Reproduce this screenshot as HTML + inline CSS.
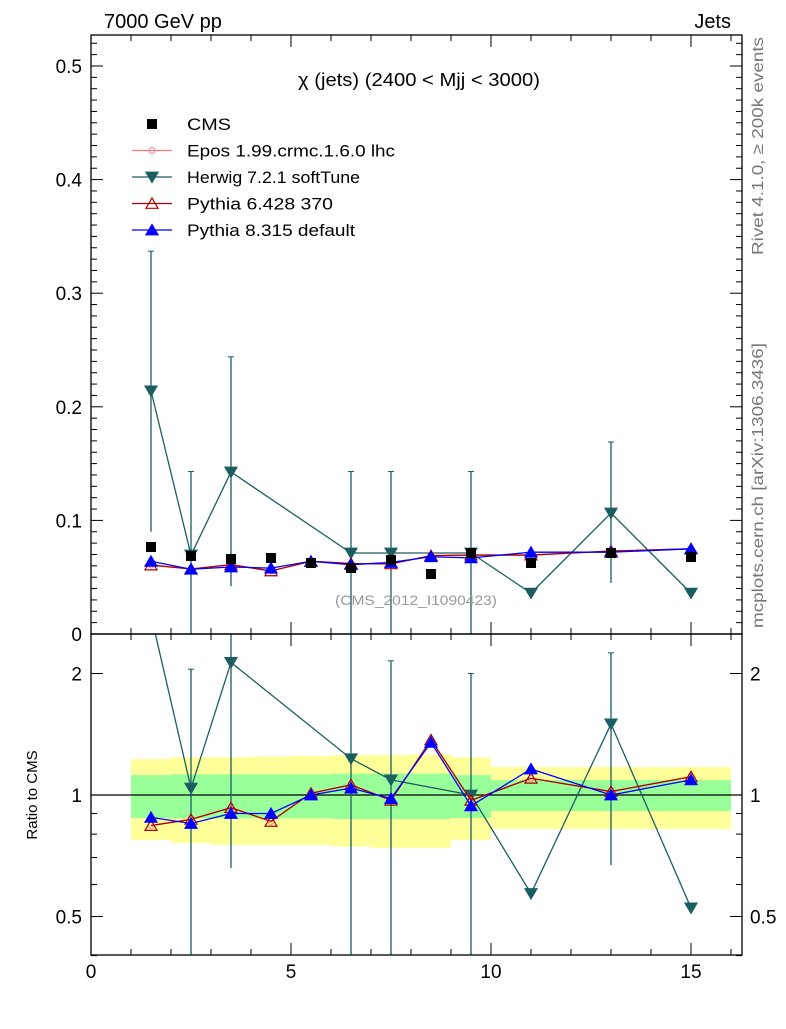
<!DOCTYPE html>
<html><head><meta charset="utf-8"><style>
body{margin:0;background:#fff;}
svg{font-family:"Liberation Sans",sans-serif;}
</style></head><body>
<svg id="c" width="786" height="1024" xmlns="http://www.w3.org/2000/svg"></svg>
<script>
const binEdges=[1,2,3,4,5,6,7,8,9,10,12,14,16];
const xs=[1.5,2.5,3.5,4.5,5.5,6.5,7.5,8.5,9.5,11,13,15];
const cms=[0.0766,0.0687,0.066,0.0669,0.0625,0.0581,0.0651,0.0528,0.0713,0.0625,0.0713,0.0678];
const herwigX=[1.5,2.5,3.5,6.5,7.5,9.5,11,13,15];
const herwig=[0.214,0.0695,0.1426,0.0713,0.0713,0.0713,0.036,0.1065,0.036];
const herwigHi=[0.337,0.143,0.244,0.143,0.143,0.143,null,0.169,null];
const herwigLo=[0.09,0,0.042,0,0,0,null,0.045,null];
const herwigR=[2.79,1.04,2.13,1.23,1.09,1.0,0.57,1.5,0.525];
const herwigRHi=[null,2.05,3,3,2.15,2.0,null,2.25,null];
const herwigRLo=[null,0.3,0.66,0.3,0.3,0.3,null,0.67,null];
const py6=[0.0607,0.0572,0.061,0.0555,0.064,0.062,0.0617,0.069,0.0695,0.0695,0.073,0.075];
const py8=[0.064,0.057,0.059,0.058,0.064,0.061,0.063,0.068,0.067,0.072,0.072,0.075];
const epos=[0.0607,0.0572,0.061,0.0555,0.064,0.062,0.0617,0.069,0.0695,0.0695,0.073,0.075];
const py6R=[0.84,0.87,0.93,0.86,1.01,1.06,0.97,1.37,0.97,1.10,1.02,1.11];
const py8R=[0.88,0.85,0.90,0.90,1.00,1.04,0.98,1.35,0.94,1.16,1.00,1.09];
const eposR=[0.84,0.87,0.93,0.86,1.01,1.06,0.97,1.37,0.97,1.10,1.02,1.11];
const yellowHi=[1.228,1.24,1.24,1.245,1.25,1.256,1.256,1.26,1.24,1.173,1.173,1.173];
const yellowLo=[0.774,0.76,0.752,0.752,0.752,0.745,0.739,0.739,0.774,0.824,0.824,0.824];
const greenHi=[1.12,1.125,1.125,1.125,1.125,1.13,1.13,1.13,1.12,1.089,1.089,1.089];
const greenLo=[0.877,0.875,0.875,0.875,0.875,0.872,0.872,0.872,0.877,0.913,0.913,0.913];

const NS="http://www.w3.org/2000/svg",svg=document.getElementById('c');
const L=91,R=742,T=35,MB=634,RB=955;
const X=v=>L+v*40;
const Y=v=>MB-v*1136;
const YR=v=>795-Math.log2(v)*121.5;
function el(t,a,p){const e=document.createElementNS(NS,t);for(const k in a)e.setAttribute(k,a[k]);(p||svg).appendChild(e);return e;}
function txt(s,a){const e=el('text',a);e.textContent=s;return e;}
const defs=el('defs',{});
const c1=el('clipPath',{id:'cm'},defs);el('rect',{x:L,y:T,width:R-L,height:MB-T},c1);
const c2=el('clipPath',{id:'cr'},defs);el('rect',{x:L,y:MB,width:R-L,height:RB-MB},c2);
const gm=el('g',{'clip-path':'url(#cm)'});
const gr=el('g',{'clip-path':'url(#cr)'});
for(let i=0;i<xs.length;i++){
 const x0=X(binEdges[i]),w=X(binEdges[i+1])-x0;
 const y1=el('rect',{x:x0,y:YR(yellowHi[i]),width:w,height:YR(yellowLo[i])-YR(yellowHi[i]),fill:'#ffff99'},gr);
 
 const g1=el('rect',{x:x0,y:YR(greenHi[i]),width:w,height:YR(greenLo[i])-YR(greenHi[i]),fill:'#99ff99'},gr);
 
}
el('line',{x1:L,x2:R,y1:YR(1),y2:YR(1),stroke:'#000','stroke-width':1.3},gr);
function tri(g,x,y,down,fill,stroke){const s=6;const p=down?`${x-s},${y-s*0.8} ${x+s},${y-s*0.8} ${x},${y+s*0.9}`:`${x-s},${y+s*0.8} ${x+s},${y+s*0.8} ${x},${y-s*0.9}`;return el('polygon',{points:p,fill:fill,stroke:stroke,'stroke-width':1.2},g);}
function series(g,xv,yv,Yf,color,kind,name){
 const pts=xv.map((x,i)=>X(x)+','+Yf(yv[i])).join(' ');
 const pl=el('polyline',{points:pts,fill:'none',stroke:color,'stroke-width':1.3},g);
 
 xv.forEach((x,i)=>{let m;
  if(kind==='down')m=tri(g,X(x),Yf(yv[i]),true,color,color);
  else if(kind==='up')m=tri(g,X(x),Yf(yv[i]),false,color,color);
  else if(kind==='open')m=tri(g,X(x),Yf(yv[i]),false,'none',color);
  else m=el('circle',{cx:X(x),cy:Yf(yv[i]),r:3,fill:'none',stroke:color},g);
  });
}
function errs(g,xv,hi,lo,Yf,color){xv.forEach((x,i)=>{if(hi[i]==null)return;
 el('line',{x1:X(x),x2:X(x),y1:Yf(hi[i]),y2:Yf(lo[i]),stroke:color,'stroke-width':1.3},g);
 el('line',{x1:X(x)-3,x2:X(x)+3,y1:Yf(hi[i]),y2:Yf(hi[i]),stroke:color},g);});}
const HC='#1b5e62';
errs(gm,herwigX,herwigHi,herwigLo,Y,HC);
series(gm,herwigX,herwig,Y,HC,'down','herwig');
series(gm,xs,epos,Y,'#f08080','circ','epos');
series(gm,xs,py6,Y,'#b00000','open','pythia6');
series(gm,xs,py8,Y,'#0000ff','up','pythia8');
xs.forEach((x,i)=>{const r=el('rect',{x:X(x)-5,y:Y(cms[i])-5,width:10,height:10,fill:'#000'},gm);});
const YRc=v=>YR(Math.max(v,0.3));
errs(gr,herwigX,herwigRHi,herwigRLo,YRc,HC);
series(gr,herwigX,herwigR,YR,HC,'down','herwig-ratio');
series(gr,xs,eposR,YR,'#f08080','circ','epos-ratio');
series(gr,xs,py6R,YR,'#b00000','open','pythia6-ratio');
series(gr,xs,py8R,YR,'#0000ff','up','pythia8-ratio');
el('rect',{x:L,y:T,width:R-L,height:MB-T,fill:'none',stroke:'#000','stroke-width':1.3});
el('rect',{x:L,y:MB,width:R-L,height:RB-MB,fill:'none',stroke:'#000','stroke-width':1.3});
for(let v=0;v<=16;v++){const maj=v%5===0;const len=maj?12:6;
 [[MB,1],[RB,1],[T,-1]].forEach(([yb,d])=>{el('line',{x1:X(v),x2:X(v),y1:yb,y2:yb-d*len,stroke:'#000'});});
 el('line',{x1:X(v),x2:X(v),y1:MB,y2:MB+len,stroke:'#000'});
 if(maj){const t=txt(String(v),{x:X(v),y:978,'font-size':19,'text-anchor':'middle'});}}
for(let k=0;k<=52;k++){const v=k/100;const maj=k%10===0;const len=maj?12:6;
 el('line',{x1:L,x2:L+len,y1:Y(v),y2:Y(v),stroke:'#000'});el('line',{x1:R,x2:R-len,y1:Y(v),y2:Y(v),stroke:'#000'});
 if(maj){const t=txt(k===0?'0':v.toFixed(1),{x:82,y:Y(v)+7,'font-size':19,'text-anchor':'end'});}}
const rt=[0.4,0.5,0.6,0.7,0.8,0.9,1,2];
rt.forEach(v=>{const maj=(v===0.5||v===1||v===2);const len=maj?12:6;
 el('line',{x1:L,x2:L+len,y1:YR(v),y2:YR(v),stroke:'#000'});el('line',{x1:R,x2:R-len,y1:YR(v),y2:YR(v),stroke:'#000'});
 if(maj){const s=String(v);const a=txt(s,{x:82,y:YR(v)+7,'font-size':19,'text-anchor':'end'});
 const b=txt(s,{x:750,y:YR(v)+7,'font-size':19});}});
let t;
t=txt('7000 GeV pp',{x:104,y:28,'font-size':20});
t=txt('Jets',{x:731,y:28,'font-size':20,'text-anchor':'end'});
t=txt('χ (jets) (2400 < Mjj < 3000)',{x:298,y:86,'font-size':18,textLength:242,lengthAdjust:'spacingAndGlyphs'});
t=txt('(CMS_2012_I1090423)',{x:335,y:605,'font-size':14,fill:'#999',textLength:162,lengthAdjust:'spacingAndGlyphs'});
t=txt('Ratio to CMS',{x:0,y:0,'font-size':15,transform:'translate(37,795) rotate(-90)','text-anchor':'middle'});
t=txt('Rivet 4.1.0, ≥ 200k events',{x:0,y:0,'font-size':16,fill:'#777',textLength:218,lengthAdjust:'spacingAndGlyphs',transform:'translate(763,255) rotate(-90)'});
t=txt('mcplots.cern.ch [arXiv:1306.3436]',{x:0,y:0,'font-size':16,fill:'#777',textLength:285,lengthAdjust:'spacingAndGlyphs',transform:'translate(763,628) rotate(-90)'});
const leg=el('g',{});
const items=[['CMS','sq','#000',44],['Epos 1.99.crmc.1.6.0 lhc','circ','#f08080',208],['Herwig 7.2.1 softTune','down',HC,173],['Pythia 6.428 370','open','#b00000',146],['Pythia 8.315 default','up','#0000ff',168]];
items.forEach((it,i)=>{const y=124+i*26.5;const g=el('g',{},leg);
 if(it[1]==='sq')el('rect',{x:147,y:y-5,width:10,height:10,fill:'#000'},g);
 else{el('line',{x1:132,x2:172,y1:y,y2:y,stroke:it[2],'stroke-width':1.3},g);
  if(it[1]==='circ')el('circle',{cx:152,cy:y,r:3,fill:'none',stroke:it[2]},g);
  else tri(g,152,y,it[1]==='down',it[1]==='open'?'none':it[2],it[2]);}
 const tt=el('text',{x:187,y:y+6,'font-size':17,textLength:it[3],lengthAdjust:'spacingAndGlyphs'},g);tt.textContent=it[0];});
</script>
</body></html>
